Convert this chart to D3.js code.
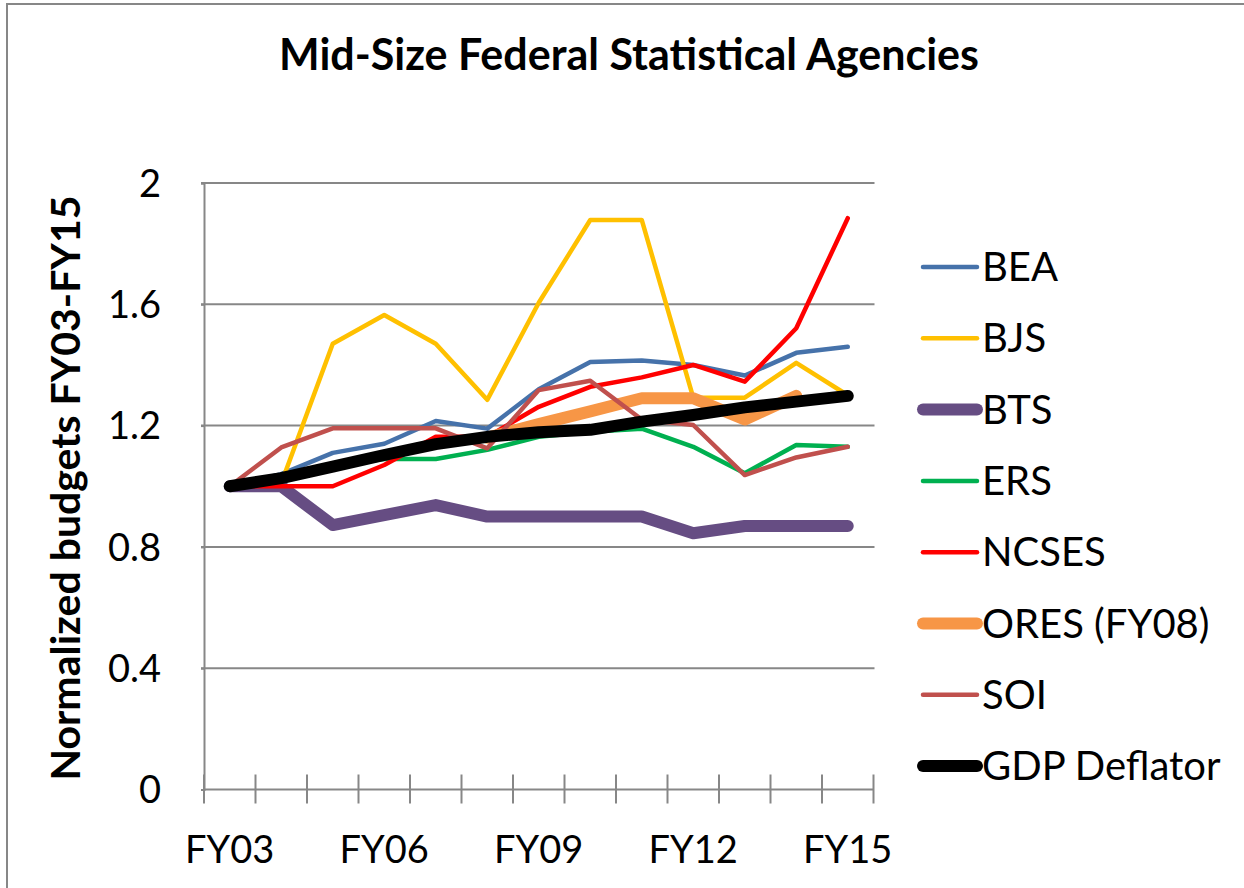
<!DOCTYPE html>
<html>
<head>
<meta charset="utf-8">
<script src="https://cdn.jsdelivr.net/npm/d3@7"></script>
<style>
  body { margin: 0; background: #fff; }
  svg { display: block; font-family: Lato, "Open Sans", sans-serif; }
</style>
</head>
<body>
<svg id="viz" width="1244" height="888"></svg>
<script>
const svg = d3.select("#viz");

// data
const categories = ["FY03", "FY04", "FY05", "FY06", "FY07", "FY08", "FY09", "FY10", "FY11", "FY12", "FY13", "FY14", "FY15"];
const shownLabels = ["FY03", "FY06", "FY09", "FY12", "FY15"];
const yTicks = [0, 0.4, 0.8, 1.2, 1.6, 2];

const bea   = [1.00, 1.04, 1.11, 1.14, 1.215, 1.19, 1.32, 1.41, 1.415, 1.40, 1.365, 1.44, 1.46];
const bjs   = [1.00, 1.01, 1.47, 1.565, 1.47, 1.285, 1.605, 1.878, 1.878, 1.292, 1.292, 1.407, 1.30];
const bts   = [1.00, 1.00, 0.872, 0.905, 0.938, 0.90, 0.90, 0.90, 0.90, 0.845, 0.869, 0.869, 0.869];
const ers   = [1.00, 1.03, 1.07, 1.09, 1.09, 1.12, 1.163, 1.18, 1.19, 1.13, 1.043, 1.136, 1.13];
const ncses = [1.00, 1.00, 1.00, 1.07, 1.163, 1.163, 1.262, 1.328, 1.359, 1.40, 1.345, 1.521, 1.884];
const ores  = [null, null, null, null, null, 1.16, 1.205, 1.247, 1.29, 1.29, 1.22, 1.298, null];
const soi   = [1.00, 1.128, 1.191, 1.191, 1.191, 1.125, 1.317, 1.348, 1.22, 1.202, 1.037, 1.095, 1.13];
const gdp   = [1.00, 1.027, 1.065, 1.103, 1.139, 1.163, 1.178, 1.186, 1.213, 1.235, 1.26, 1.279, 1.298];

const seriesNames = ["BEA", "BJS", "BTS", "ERS", "NCSES", "ORES (FY08)", "SOI", "GDP Deflator"];
const seriesValues = [bea, bjs, bts, ers, ncses, ores, soi, gdp];
const seriesColors = ["#4672AA", "#FFC000", "#664D83", "#00B050", "#FF0000", "#F79646", "#C0504D", "#000000"];
const seriesWidths = [4.5, 4.5, 12, 4.5, 4.5, 12, 4.5, 12];

const plot = { left: 204, right: 873.5, top: 183, bottom: 789.5 };
const gridColor = "#878787";

// outer chart frame
svg.append("rect")
  .attr("x", 7).attr("y", 4)
  .attr("width", 1260).attr("height", 900)
  .attr("fill", "none")
  .attr("stroke", gridColor)
  .attr("stroke-width", 2);

const x = d3.scaleBand().domain(categories).range([plot.left, plot.right]).padding(0);
const y = d3.scaleLinear().domain([0, 2]).range([plot.bottom, plot.top]);
const cx = d => x(d) + x.bandwidth() / 2;

// gridlines
svg.append("g")
  .selectAll("line")
  .data(yTicks.filter(d => d > 0))
  .join("line")
  .attr("x1", plot.left - 3).attr("x2", plot.right + 1)
  .attr("y1", d => y(d)).attr("y2", d => y(d))
  .attr("stroke", gridColor)
  .attr("stroke-width", 2);

// y axis
const yAxis = svg.append("g")
  .attr("transform", `translate(${plot.left},0)`)
  .call(d3.axisLeft(y).tickValues(yTicks).tickSize(3).tickPadding(40).tickFormat(d3.format("")));
yAxis.select(".domain").attr("stroke", gridColor).attr("stroke-width", 2);
yAxis.selectAll(".tick line").attr("stroke", gridColor).attr("stroke-width", 2);
yAxis.selectAll(".tick text")
  .attr("font-family", "Lato, 'Open Sans', sans-serif")
  .attr("font-size", 38)
  .attr("fill", "#000")
  .attr("dy", "0.35em");

// x axis
const xAxisG = svg.append("g").attr("transform", `translate(0,${plot.bottom})`);
xAxisG.append("line")
  .attr("x1", plot.left).attr("x2", plot.right)
  .attr("stroke", gridColor).attr("stroke-width", 2);
xAxisG.selectAll(".tk")
  .data(categories.concat(["end"]))
  .join("line")
  .attr("class", "tk")
  .attr("x1", (d, i) => i < categories.length ? x(d) : plot.right)
  .attr("x2", (d, i) => i < categories.length ? x(d) : plot.right)
  .attr("y1", -15).attr("y2", 14)
  .attr("stroke", gridColor).attr("stroke-width", 2);
xAxisG.selectAll(".lbl")
  .data(shownLabels)
  .join("text")
  .attr("class", "lbl")
  .attr("x", d => cx(d))
  .attr("y", 73)
  .attr("text-anchor", "middle")
  .attr("font-size", 38)
  .text(d => d);

// lines
const line = d3.line()
  .defined(d => d.v != null)
  .x(d => cx(d.c))
  .y(d => y(d.v));

seriesNames.forEach((name, i) => {
  const pts = categories.map((c, j) => ({ c, v: seriesValues[i][j] }));
  svg.append("path")
    .datum(pts)
    .attr("fill", "none")
    .attr("stroke", seriesColors[i])
    .attr("stroke-width", seriesWidths[i])
    .attr("stroke-linecap", "round")
    .attr("stroke-linejoin", "round")
    .attr("d", line);
});

// title
svg.append("text")
  .attr("x", 629)
  .attr("y", 70)
  .attr("text-anchor", "middle")
  .attr("font-size", 43)
  .attr("font-weight", "bold")
  .text("Mid-Size Federal Statistical Agencies");

// y title
svg.append("text")
  .attr("transform", "translate(80,488) rotate(-90)")
  .attr("text-anchor", "middle")
  .attr("font-size", 41)
  .attr("font-weight", "bold")
  .text("Normalized budgets FY03-FY15");

// legend
const legend = svg.append("g").attr("transform", "translate(923,267)");
seriesNames.forEach((name, i) => {
  const g = legend.append("g").attr("transform", `translate(0,${i * 71.3})`);
  g.append("line")
    .attr("x1", 0).attr("x2", 54)
    .attr("stroke", seriesColors[i])
    .attr("stroke-width", seriesWidths[i])
    .attr("stroke-linecap", "round");
  g.append("text")
    .attr("x", 59)
    .attr("y", 14)
    .attr("font-size", 40)
    .text(name);
});
</script>
</body>
</html>
